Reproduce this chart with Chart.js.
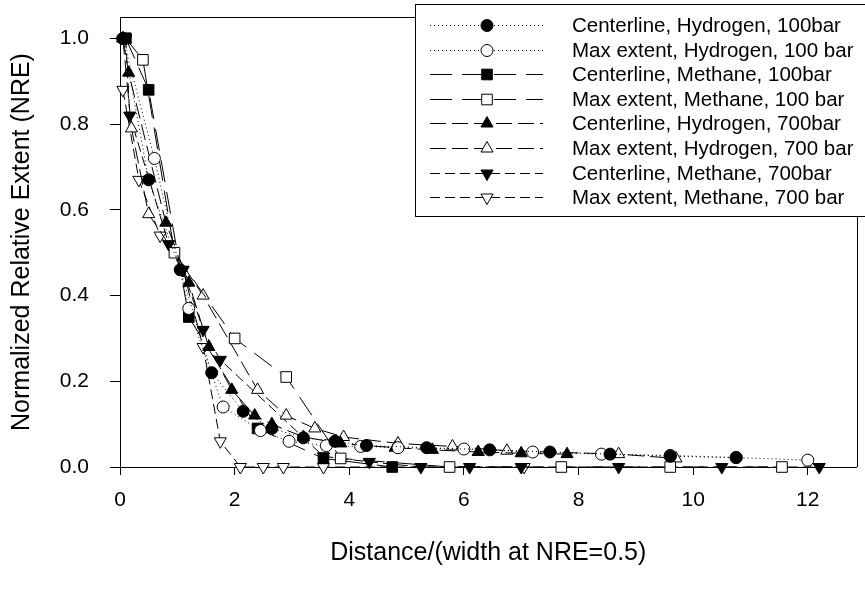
<!DOCTYPE html>
<html>
<head>
<meta charset="utf-8">
<script src="https://cdn.jsdelivr.net/npm/chart.js@4.4.1/dist/chart.umd.min.js"></script>
<style>
    html, body { margin: 0; padding: 0; background: #fff; }
    #wrap { width: 865px; height: 594px; position: relative; }
</style>
</head>
<body>
<div id="wrap"><canvas id="nre-chart"></canvas></div>
<script>
// series labels (legend order)
const seriesNames = [
    'Centerline, Hydrogen, 100bar',
    'Max extent, Hydrogen, 100 bar',
    'Centerline, Methane, 100bar',
    'Max extent, Methane, 100 bar',
    'Centerline, Hydrogen, 700bar',
    'Max extent, Hydrogen, 700 bar',
    'Centerline, Methane, 700bar',
    'Max extent, Methane, 700 bar'
];

// values
const clH2_100x = [0.05, 0.5, 1.05, 1.6, 2.15, 2.65, 3.2, 3.75, 4.3, 5.35, 6.45, 7.5, 8.55, 9.6, 10.75];
const clH2_100y = [1.0, 0.67, 0.46, 0.22, 0.13, 0.09, 0.068, 0.06, 0.05, 0.045, 0.04, 0.035, 0.03, 0.025, 0.022];

const maxH2_100x = [0.05, 0.6, 1.2, 1.8, 2.45, 2.95, 3.6, 4.2, 4.85, 6.0, 7.2, 8.4, 9.6, 10.75, 12.0];
const maxH2_100y = [1.0, 0.72, 0.37, 0.14, 0.085, 0.06, 0.05, 0.048, 0.045, 0.042, 0.035, 0.03, 0.027, 0.022, 0.016];

const clCH4_100x = [0.1, 0.5, 1.2, 2.4, 3.55, 4.75];
const clCH4_100y = [1.0, 0.88, 0.35, 0.09, 0.02, 0.0];

const maxCH4_100x = [0.1, 0.4, 0.95, 2.0, 2.9, 3.85, 5.75, 7.7, 9.6, 11.55];
const maxCH4_100y = [1.0, 0.95, 0.5, 0.3, 0.21, 0.02, 0.0, 0.0, 0.0, 0.0];

const clH2_700x = [0.05, 0.15, 0.8, 1.2, 1.55, 1.95, 2.35, 2.65, 3.2, 3.85, 4.8, 5.45, 6.25, 7.0, 7.8];
const clH2_700y = [1.0, 0.92, 0.57, 0.43, 0.28, 0.18, 0.12, 0.1, 0.07, 0.055, 0.045, 0.04, 0.035, 0.032, 0.03];

const maxH2_700x = [0.05, 0.2, 0.5, 1.45, 2.4, 2.9, 3.4, 3.9, 4.85, 5.8, 6.75, 8.7, 9.7];
const maxH2_700y = [1.0, 0.79, 0.59, 0.4, 0.18, 0.12, 0.09, 0.07, 0.055, 0.048, 0.038, 0.03, 0.02];

const clCH4_700x = [0.1, 0.17, 0.85, 1.1, 1.45, 1.75, 3.55, 4.35, 5.25, 6.1, 7.0, 8.7, 10.5, 12.2];
const clCH4_700y = [1.0, 0.82, 0.52, 0.46, 0.32, 0.25, 0.025, 0.012, 0.0, 0.0, 0.0, 0.0, 0.0, 0.0];

const maxCH4_700x = [0.05, 0.33, 0.7, 1.1, 1.45, 1.75, 2.1, 2.5, 2.85, 3.55, 7.05];
const maxCH4_700y = [0.88, 0.67, 0.54, 0.46, 0.28, 0.06, 0.0, 0.0, 0.0, 0.0, 0.0];

const xTicks = [0, 2, 4, 6, 8, 10, 12];
const yTicks = [0.0, 0.2, 0.4, 0.6, 0.8, 1.0];

const seriesX = [clH2_100x, maxH2_100x, clCH4_100x, maxCH4_100x, clH2_700x, maxH2_700x, clCH4_700x, maxCH4_700x];
const seriesY = [clH2_100y, maxH2_100y, clCH4_100y, maxCH4_100y, clH2_700y, maxH2_700y, clCH4_700y, maxCH4_700y];

// marker / line look for each series
const looks = [
    { shape: 'circle', filled: true, rot: 0, r: 6, dash: [1, 3] },
    { shape: 'circle', filled: false, rot: 0, r: 6, dash: [1, 3] },
    { shape: 'rect', filled: true, rot: 0, r: 7.5, dash: [22, 10] },
    { shape: 'rect', filled: false, rot: 0, r: 7.5, dash: [22, 10] },
    { shape: 'triangle', filled: true, rot: 0, r: 7, dash: [16, 6] },
    { shape: 'triangle', filled: false, rot: 0, r: 7, dash: [16, 6] },
    { shape: 'triangle', filled: true, rot: 180, r: 7, dash: [10, 5] },
    { shape: 'triangle', filled: false, rot: 180, r: 7, dash: [10, 5] }
];

const FONT = '"Liberation Sans", Arial, Helvetica, sans-serif';

const datasets = seriesNames.map(function (name, i) {
    const lk = looks[i];
    return {
        label: name,
        data: seriesX[i].map(function (x, j) { return { x: x, y: seriesY[i][j] }; }),
        showLine: true,
        borderColor: '#000',
        borderWidth: 1,
        borderDash: lk.dash,
        pointStyle: lk.shape,
        pointRotation: lk.rot,
        pointRadius: lk.r,
        pointHoverRadius: lk.r,
        pointBackgroundColor: lk.filled ? '#000' : '#fff',
        pointBorderColor: '#000',
        pointBorderWidth: 1,
        tension: 0,
        fill: false,
        clip: false
    };
});

function drawMarker(ctx, lk, x, y) {
    const r = lk.r;
    ctx.beginPath();
    if (lk.shape === 'circle') {
        ctx.arc(x, y, r, 0, Math.PI * 2);
    } else if (lk.shape === 'rect') {
        const s = r * Math.SQRT1_2;
        ctx.rect(x - s, y - s, 2 * s, 2 * s);
    } else {
        const d = lk.rot === 180 ? -1 : 1;
        ctx.moveTo(x, y - d * r);
        ctx.lineTo(x + r * 0.866, y + d * r / 2);
        ctx.lineTo(x - r * 0.866, y + d * r / 2);
        ctx.closePath();
    }
    ctx.fillStyle = lk.filled ? '#000' : '#fff';
    ctx.fill();
    ctx.strokeStyle = '#000';
    ctx.lineWidth = 1;
    ctx.stroke();
}

// top and right edges of the plot frame
const frame = {
    id: 'frame',
    beforeDatasetsDraw: function (chart) {
        const a = chart.chartArea;
        const ctx = chart.ctx;
        ctx.save();
        ctx.strokeStyle = '#000';
        ctx.lineWidth = 1;
        ctx.beginPath();
        ctx.moveTo(a.left, Math.round(a.top) + 0.5);
        ctx.lineTo(Math.round(a.right) + 0.5, Math.round(a.top) + 0.5);
        ctx.lineTo(Math.round(a.right) + 0.5, a.bottom);
        ctx.stroke();
        ctx.restore();
    }
};

// boxed legend with a line sample and marker per row
const legendBox = {
    id: 'legendBox',
    afterDraw: function (chart) {
        const ctx = chart.ctx;
        ctx.save();
        ctx.fillStyle = '#fff';
        ctx.fillRect(415, 4, 460, 213);
        ctx.strokeStyle = '#000';
        ctx.lineWidth = 1;
        ctx.strokeRect(415.5, 4.5, 460, 212);
        seriesNames.forEach(function (name, i) {
            const y = Math.round(25 + i * 24.6);
            ctx.setLineDash(looks[i].dash);
            ctx.beginPath();
            ctx.moveTo(430, y + 0.5);
            ctx.lineTo(543, y + 0.5);
            ctx.strokeStyle = '#000';
            ctx.stroke();
            ctx.setLineDash([]);
            drawMarker(ctx, looks[i], 487, y + 0.5);
            ctx.fillStyle = '#000';
            ctx.font = '20.5px ' + FONT;
            ctx.textBaseline = 'middle';
            ctx.textAlign = 'left';
            ctx.fillText(name, 572, y + 1);
        });
        ctx.restore();
    }
};

new Chart(document.getElementById('nre-chart').getContext('2d'), {
    type: 'scatter',
    data: { datasets: datasets },
    options: {
        responsive: true,
        maintainAspectRatio: false,
        animation: false,
        layout: { padding: { top: 17, right: 3, left: 0, bottom: 0 } },
        plugins: {
            legend: { display: false },
            tooltip: { enabled: false }
        },
        scales: {
            x: {
                type: 'linear',
                min: 0,
                max: 12.85,
                afterBuildTicks: function (scale) {
                    scale.ticks = xTicks.map(function (v) { return { value: v }; });
                },
                afterFit: function (scale) {
                    scale.height = 127;
                    scale.paddingLeft = 0;
                    scale.paddingRight = 0;
                },
                ticks: {
                    color: '#000',
                    padding: 13,
                    maxRotation: 0,
                    font: { family: FONT, size: 21 },
                    callback: function (v) { return String(v); }
                },
                grid: { drawOnChartArea: false, drawTicks: true, tickLength: 8, color: '#000' },
                border: { color: '#000', width: 1 },
                title: {
                    display: true,
                    text: 'Distance/(width at NRE=0.5)',
                    color: '#000',
                    font: { family: FONT, size: 25 },
                    padding: { top: 0, bottom: 26 }
                }
            },
            y: {
                type: 'linear',
                min: 0,
                max: 1.05,
                afterBuildTicks: function (scale) {
                    scale.ticks = yTicks.map(function (v) { return { value: v }; });
                },
                afterFit: function (scale) {
                    scale.width = 120;
                    scale.paddingTop = 0;
                    scale.paddingBottom = 0;
                },
                ticks: {
                    color: '#000',
                    padding: 21,
                    font: { family: FONT, size: 21 },
                    callback: function (v) { return Number(v).toFixed(1); }
                },
                grid: { drawOnChartArea: false, drawTicks: true, tickLength: 10, color: '#000' },
                border: { color: '#000', width: 1 },
                title: {
                    display: true,
                    text: 'Normalized Relative Extent (NRE)',
                    color: '#000',
                    font: { family: FONT, size: 25 },
                    padding: { top: 7, bottom: 0 }
                }
            }
        }
    },
    plugins: [frame, legendBox]
});
</script>
</body>
</html>
